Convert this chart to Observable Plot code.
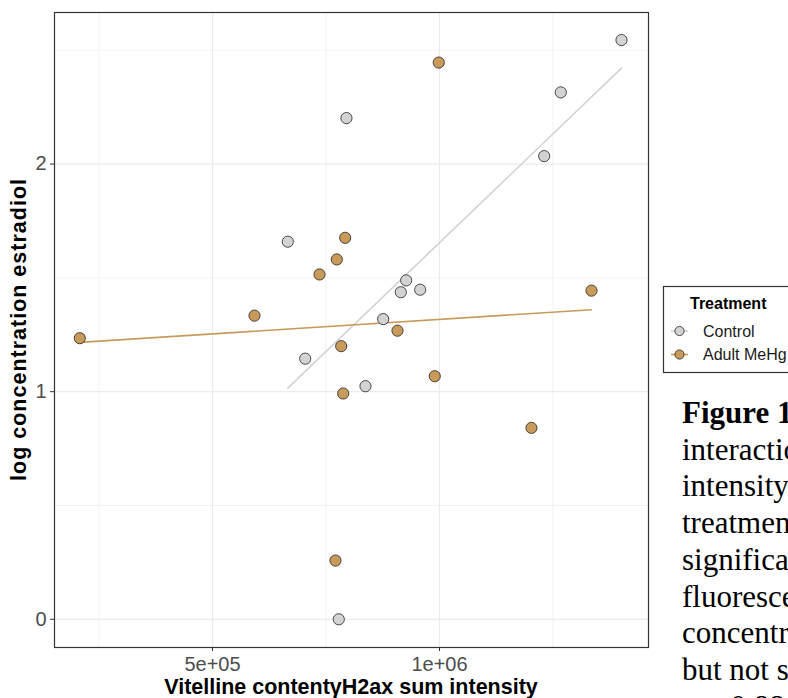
<!DOCTYPE html>
<html><head><meta charset="utf-8">
<script src="https://cdn.jsdelivr.net/npm/d3@7"></script>
<script src="https://cdn.jsdelivr.net/npm/@observablehq/plot@0.6"></script>
<style>
html,body{margin:0;padding:0;background:#fff;overflow:hidden;width:788px;height:698px;}
#chart svg{display:block;}
</style></head><body><div id="chart"></div>
<script>
const treatments = ["Control", "Adult MeHg"];
const controlX = [1400900, 1267200, 1230600, 795100, 665900, 926600, 914800, 957500, 876000, 704200, 837000, 778200];
const controlY = [2.545, 2.315, 2.035, 2.202, 1.659, 1.489, 1.437, 1.448, 1.319, 1.145, 1.024, 0.0];
const mehgX = [998400, 792300, 773800, 735700, 592500, 207700, 907500, 783500, 787900, 989600, 1202600, 1334800, 770900];
const mehgY = [2.446, 1.676, 1.581, 1.515, 1.334, 1.235, 1.268, 1.200, 0.992, 1.068, 0.841, 1.444, 0.258];
const xMajor = [5e5, 1e6];
const xTickLabels = ["5e+05", "1e+06"];
const xMinor = [2.5e5, 7.5e5, 1.25e6];
const yMajor = [0, 1, 2];
const yTickLabels = ["0", "1", "2"];
const yMinor = [0.5, 1.5, 2.5];
const fillColors = ["#D3D3D3", "#C89B5B"];
const xTitle = "Vitelline contentγH2ax sum intensity";
const yTitle = "log concentration estradiol";
const legendTitle = "Treatment";
const captionLines = ["interaction", "intensity", "treatment", "significant", "fluorescence", "concentration", "but not significant", "p = 0.88"];

const data = [
  ...controlX.map((x, i) => ({x, y: controlY[i], t: treatments[0]})),
  ...mehgX.map((x, i) => ({x, y: mehgY[i], t: treatments[1]}))
];

const chart = Plot.plot({
  width: 788, height: 698,
  marginLeft: 54, marginRight: 140, marginTop: 12, marginBottom: 51,
  style: {fontFamily: "'Liberation Sans', Arial, sans-serif", background: "#fff", color: "#333"},
  x: {domain: [151982, 1460400]},
  y: {domain: [-0.124, 2.666]},
  color: {domain: treatments, range: fillColors},
  marks: [
    Plot.gridX(xMinor, {stroke: "#F2F2F2", strokeOpacity: 1, strokeWidth: 1}),
    Plot.gridY(yMinor, {stroke: "#F2F2F2", strokeOpacity: 1, strokeWidth: 1}),
    Plot.gridX(xMajor, {stroke: "#EBEBEB", strokeOpacity: 1, strokeWidth: 1.2}),
    Plot.gridY(yMajor, {stroke: "#EBEBEB", strokeOpacity: 1, strokeWidth: 1.2}),
    Plot.axisX(xMajor, {tickSize: 4, tickPadding: 5, stroke: "#333", fill: "#4D4D4D", fontSize: 20,
      tickFormat: d => xTickLabels[xMajor.indexOf(d)], label: null}),
    Plot.axisY(yMajor, {tickSize: 4, tickPadding: 4, stroke: "#333", fill: "#4D4D4D", fontSize: 20,
      tickFormat: d => yTickLabels[yMajor.indexOf(d)], label: null}),
    Plot.linearRegressionY(data, {x: "x", y: "y", stroke: "t", ci: 0, strokeWidth: 1.6}),
    Plot.dot(data, {x: "x", y: "y", fill: "t", r: 5.6, stroke: "#222", strokeWidth: 0.8}),
    Plot.frame({stroke: "#333", strokeWidth: 1.2})
  ]
});
document.getElementById("chart").appendChild(chart);

const svg = d3.select(chart);
// axis titles
svg.append("text").attr("x", 351).attr("y", 694).attr("text-anchor", "middle")
  .attr("font-size", 21.5).attr("font-weight", "bold").attr("fill", "#000").text(xTitle);
svg.append("text").attr("transform", "translate(26,329.5) rotate(-90)").attr("text-anchor", "middle")
  .attr("font-size", 21.5).attr("font-weight", "bold").attr("letter-spacing", "1px").attr("fill", "#000").text(yTitle);

// legend
const lg = svg.append("g").attr("text-anchor", "start");
lg.append("rect").attr("x", 663.5).attr("y", 286.5).attr("width", 150).attr("height", 86)
  .attr("fill", "#fff").attr("stroke", "#333").attr("stroke-width", 1.2);
lg.append("text").attr("x", 690).attr("y", 309).attr("font-size", 16).attr("font-weight", "bold").attr("fill", "#000").text(legendTitle);
treatments.forEach((t, i) => {
  const cy = 331 + i * 23.5;
  lg.append("line").attr("x1", 671).attr("x2", 688).attr("y1", cy).attr("y2", cy)
    .attr("stroke", fillColors[i]).attr("stroke-width", 1.6);
  lg.append("circle").attr("cx", 679.5).attr("cy", cy).attr("r", 4.6)
    .attr("fill", fillColors[i]).attr("stroke", "#222").attr("stroke-width", 0.8);
  lg.append("text").attr("x", 703).attr("y", cy + 5.6).attr("font-size", 16).attr("fill", "#1a1a1a").text(t);
});

// caption (cropped figure caption text)
const cap = svg.append("g").attr("text-anchor", "start").attr("font-family", "'Liberation Serif', 'Times New Roman', serif").attr("font-size", 31).attr("fill", "#000");
cap.append("text").attr("x", 682).attr("y", 423).attr("font-weight", "bold").text("Figure 1.");
captionLines.forEach((s, i) => {
  cap.append("text").attr("x", 682).attr("y", 423 + (i + 1) * 36.7).text(s);
});
</script>
</body></html>
